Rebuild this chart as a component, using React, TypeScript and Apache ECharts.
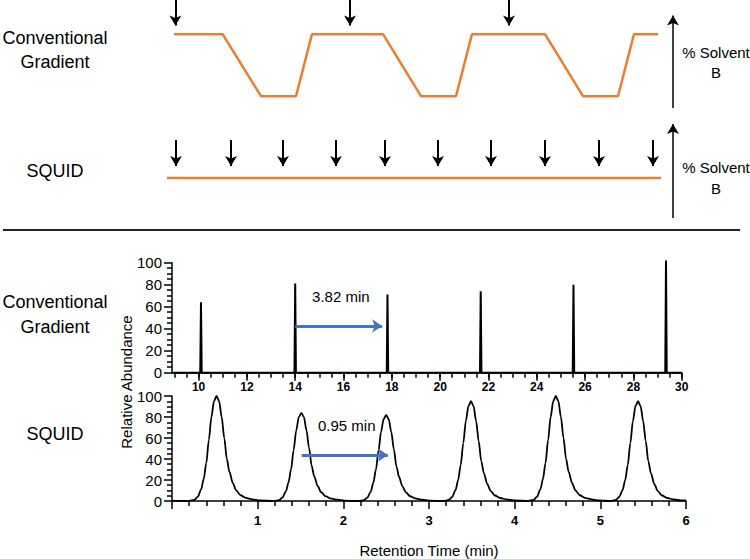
import React, { useEffect, useRef } from "react";
import * as echarts from "echarts";

// ---- Schematic (top) data: gradient programme and injection times (arbitrary time units) ----
const gradientTimes = [0.7, 3.13, 5.05, 6.8, 7.6, 11.15, 13.05, 14.8, 15.6, 19.25, 21.15, 22.9, 23.7, 24.9];
const gradientLevels = [100, 100, 0, 0, 100, 100, 0, 0, 100, 100, 0, 0, 100, 100];
const gradientInjections = [0.77, 9.5, 17.45];
const squidLineTimes = [0.35, 25.05];
const squidLineLevel = 42;
const squidInjections = [0.8, 3.55, 6.15, 8.8, 11.25, 13.9, 16.55, 19.25, 21.95, 24.65];
const solventAxisTime = 25.65;

// ---- Conventional gradient chromatogram ----
const convPeakTimes = [10.1, 14.0, 17.82, 21.68, 25.52, 29.35];
const convPeakHeights = [64, 81, 71, 74, 80, 102];
const convMajorTicks = [10, 12, 14, 16, 18, 20, 22, 24, 26, 28, 30];
const convMinorTicks = [
  9, 9.5, 10, 10.5, 11, 11.5, 12, 12.5, 13, 13.5, 14, 14.5, 15, 15.5, 16, 16.5, 17, 17.5, 18, 18.5, 19, 19.5,
  20, 20.5, 21, 21.5, 22, 22.5, 23, 23.5, 24, 24.5, 25, 25.5, 26, 26.5, 27, 27.5, 28, 28.5, 29, 29.5, 30,
];

// ---- SQUID chromatogram ----
const squidPeakTimes = [0.52, 1.51, 2.5, 3.49, 4.48, 5.44];
const squidPeakHeights = [100, 84, 82, 95, 100, 95];
// peak profile: offset from apex (min) and fraction of apex height
const peakProfileOffsets = [-0.32, -0.26, -0.22, -0.18, -0.15, -0.12, -0.09, -0.06, -0.03, 0, 0.03, 0.06, 0.09, 0.12, 0.15, 0.19, 0.23, 0.28, 0.34, 0.42, 0.5];
const peakProfileShape = [0, 0.01, 0.04, 0.11, 0.21, 0.36, 0.58, 0.8, 0.95, 1, 0.95, 0.8, 0.6, 0.4, 0.28, 0.17, 0.1, 0.055, 0.03, 0.015, 0.005];

const abundanceTicks = [0, 20, 40, 60, 80, 100];

const FONT = '"Liberation Sans", Arial, Helvetica, sans-serif';
const ORANGE = "#ED7D31";
const BLUE = "#4472C4";

export default function App() {
  const ref = useRef<HTMLDivElement>(null);

  useEffect(() => {
    if (!ref.current) return;
    const chart = echarts.init(ref.current, undefined, { renderer: "svg" });

    const gradientData = gradientTimes.map((t, i) => [t, gradientLevels[i]]);
    const squidLineData = squidLineTimes.map((t) => [t, squidLineLevel]);

    const convTrace: number[][] = [[8.9, 0]];
    convPeakTimes.forEach((t, i) => {
      convTrace.push([t - 0.03, 0], [t, convPeakHeights[i]], [t + 0.03, 0]);
    });
    convTrace.push([30, 0]);

    const squidTrace: number[][] = [[0, 0.3]];
    squidPeakTimes.forEach((t, i) => {
      peakProfileOffsets.forEach((o, j) => {
        squidTrace.push([t + o, squidPeakHeights[i] * peakProfileShape[j]]);
      });
    });
    squidTrace.push([6, 0.5]);

    const blackArrowStyle = { color: "#000", width: 2, type: "solid" as const };

    const valueYAxis = (gridIndex: number) => ({
      type: "value",
      gridIndex,
      min: abundanceTicks[0],
      max: abundanceTicks[abundanceTicks.length - 1],
      interval: abundanceTicks[1] - abundanceTicks[0],
      axisLine: { show: true, lineStyle: { color: "#000", width: 1.5 } },
      axisTick: { show: true, length: 8, lineStyle: { color: "#000", width: 1.5 } },
      minorTick: { show: true, splitNumber: 4, length: 5, lineStyle: { color: "#000", width: 1.5 } },
      axisLabel: { color: "#000", fontSize: 15, fontFamily: FONT, margin: 10 },
      splitLine: { show: false },
      minorSplitLine: { show: false },
    });

    const option: any = {
      animation: false,
      backgroundColor: "#fff",
      grid: [
        { left: 160, width: 520, top: -1.65, height: 110.25 },
        { left: 160, width: 520, top: 120, height: 100 },
        { left: 172, top: 262.7, width: 509.7, height: 110 },
        { left: 172, top: 396, width: 514, height: 110.7 },
      ],
      xAxis: [
        { type: "value", gridIndex: 0, min: 0, max: 26, show: false },
        { type: "value", gridIndex: 1, min: 0, max: 26, show: false },
        {
          type: "value",
          gridIndex: 2,
          position: "bottom",
          min: 8.9,
          max: 30,
          axisLine: { show: true, onZero: false, lineStyle: { color: "#000", width: 1.5 } },
          axisTick: { show: true, customValues: convMinorTicks, length: 5, lineStyle: { color: "#000", width: 1.5 } },
          axisLabel: { show: false },
          splitLine: { show: false },
        },
        {
          type: "value",
          gridIndex: 2,
          position: "bottom",
          min: 8.9,
          max: 30,
          axisLine: { show: false, onZero: false },
          axisTick: { show: true, customValues: convMajorTicks, length: 8, lineStyle: { color: "#000", width: 1.5 } },
          axisLabel: {
            show: true,
            customValues: convMajorTicks,
            color: "#000",
            fontSize: 12,
            fontWeight: "bold",
            fontFamily: FONT,
            margin: 8,
          },
          splitLine: { show: false },
        },
        {
          type: "value",
          gridIndex: 3,
          position: "bottom",
          min: 0,
          max: 6,
          interval: 1,
          axisLine: { show: true, onZero: false, lineStyle: { color: "#000", width: 1.5 } },
          axisTick: { show: true, length: 8, lineStyle: { color: "#000", width: 1.5 } },
          minorTick: { show: true, splitNumber: 5, length: 5, lineStyle: { color: "#000", width: 1.5 } },
          axisLabel: {
            color: "#000",
            fontSize: 13,
            fontWeight: "bold",
            fontFamily: FONT,
            margin: 13,
            formatter: (v: number) => (v === 0 ? "" : String(v)),
          },
          splitLine: { show: false },
          minorSplitLine: { show: false },
          name: "Retention Time (min)",
          nameLocation: "middle",
          nameGap: 42,
          nameTextStyle: { color: "#000", fontSize: 15, fontFamily: FONT },
        },
      ],
      yAxis: [
        { type: "value", gridIndex: 0, min: -20, max: 155, show: false },
        { type: "value", gridIndex: 1, min: 0, max: 100, show: false },
        valueYAxis(2),
        valueYAxis(3),
      ],
      series: [
        {
          name: "Conventional gradient %B",
          type: "line",
          xAxisIndex: 0,
          yAxisIndex: 0,
          data: gradientData,
          symbol: "none",
          lineStyle: { color: ORANGE, width: 2.5 },
          silent: true,
          markLine: {
            silent: true,
            symbol: ["none", "arrow"],
            symbolSize: [9, 10],
            label: { show: false },
            lineStyle: blackArrowStyle,
            data: [
              ...gradientInjections.map((t) => [{ coord: [t, 155] }, { coord: [t, 114] }]),
              [
                { coord: [solventAxisTime, -19], lineStyle: { color: "#000", width: 1.5, type: "solid" } },
                { coord: [solventAxisTime, 130] },
              ],
            ],
          },
        },
        {
          name: "SQUID %B",
          type: "line",
          xAxisIndex: 1,
          yAxisIndex: 1,
          data: squidLineData,
          symbol: "none",
          lineStyle: { color: ORANGE, width: 2.5 },
          silent: true,
          markLine: {
            silent: true,
            symbol: ["none", "arrow"],
            symbolSize: [9, 10],
            label: { show: false },
            lineStyle: blackArrowStyle,
            data: [
              ...squidInjections.map((t) => [{ coord: [t, 80] }, { coord: [t, 54] }]),
              [
                { coord: [solventAxisTime, 2], lineStyle: { color: "#000", width: 1.5, type: "solid" } },
                { coord: [solventAxisTime, 96] },
              ],
            ],
          },
        },
        {
          name: "Conventional chromatogram",
          type: "line",
          xAxisIndex: 2,
          yAxisIndex: 2,
          data: convTrace,
          symbol: "none",
          clip: false,
          lineStyle: { color: "#000", width: 2 },
          silent: true,
          markLine: {
            silent: true,
            symbol: ["none", "arrow"],
            symbolSize: [10, 10],
            label: { show: false },
            lineStyle: { color: BLUE, width: 3, type: "solid" },
            data: [[{ coord: [14.0, 42.5] }, { coord: [17.6, 42.5] }]],
          },
          markPoint: {
            silent: true,
            symbol: "circle",
            symbolSize: 0,
            label: { show: true, position: "inside", color: "#000", fontSize: 15, fontFamily: FONT },
            data: [{ coord: [15.89, 69], value: "3.82 min", label: { formatter: "3.82 min" } }],
          },
        },
        {
          name: "SQUID chromatogram",
          type: "line",
          xAxisIndex: 4,
          yAxisIndex: 3,
          data: squidTrace,
          symbol: "none",
          smooth: 0.3,
          smoothMonotone: "x",
          clip: false,
          lineStyle: { color: "#000", width: 1.8 },
          silent: true,
          markLine: {
            silent: true,
            symbol: ["none", "arrow"],
            symbolSize: [10, 10],
            label: { show: false },
            lineStyle: { color: BLUE, width: 3, type: "solid" },
            data: [[{ coord: [1.514, 43.7] }, { coord: [2.52, 43.7] }]],
          },
          markPoint: {
            silent: true,
            symbol: "circle",
            symbolSize: 0,
            label: { show: true, position: "inside", color: "#000", fontSize: 15, fontFamily: FONT },
            data: [{ coord: [2.04, 72.3], value: "0.95 min", label: { formatter: "0.95 min" } }],
          },
        },
      ],
      graphic: [
        {
          type: "line",
          shape: { x1: 3, y1: 230, x2: 740, y2: 230 },
          style: { stroke: "#222", lineWidth: 2 },
          silent: true,
        },
        ...[
          { text: "Conventional\nGradient", x: 55, y: 50, size: 18, lh: 24 },
          { text: "SQUID", x: 55, y: 171, size: 18, lh: 24 },
          { text: "Conventional\nGradient", x: 55, y: 314, size: 18, lh: 25 },
          { text: "SQUID", x: 55, y: 434, size: 18, lh: 24 },
          { text: "% Solvent\nB", x: 716, y: 62, size: 15, lh: 20 },
          { text: "% Solvent\nB", x: 716, y: 178, size: 15, lh: 21 },
        ].map((t) => ({
          type: "text",
          x: t.x,
          y: t.y,
          silent: true,
          style: {
            text: t.text,
            fill: "#000",
            fontSize: t.size,
            fontFamily: FONT,
            lineHeight: t.lh,
            align: "center",
            verticalAlign: "middle",
            textAlign: "center",
            textVerticalAlign: "middle",
          },
        })),
        {
          type: "text",
          x: 126,
          y: 382,
          rotation: Math.PI / 2,
          silent: true,
          style: {
            text: "Relative Abundance",
            fill: "#000",
            fontSize: 15,
            fontFamily: FONT,
            align: "center",
            verticalAlign: "middle",
            textAlign: "center",
            textVerticalAlign: "middle",
          },
        },
      ],
    };

    chart.setOption(option);
    return () => {
      chart.dispose();
    };
  }, []);

  return (
    <div
      ref={ref}
      style={{ position: "absolute", left: 0, top: 0, width: 750, height: 559, background: "#fff" }}
    />
  );
}
